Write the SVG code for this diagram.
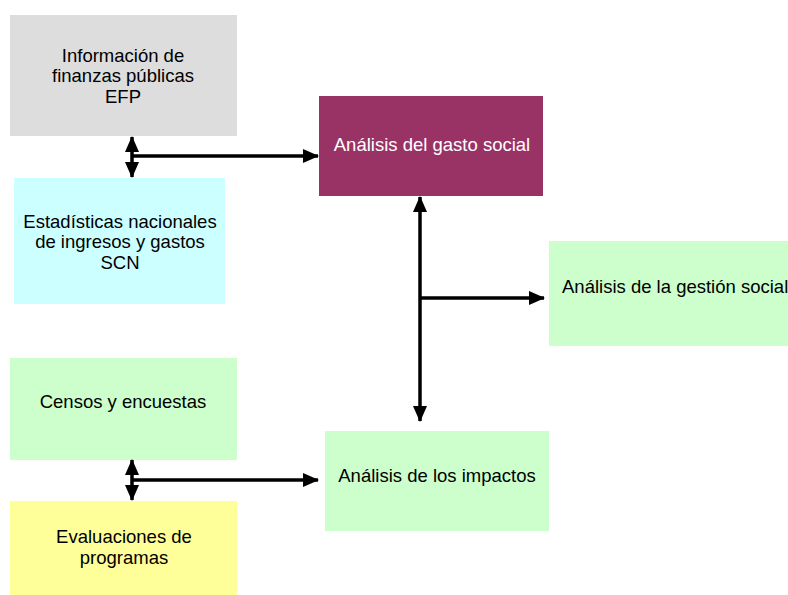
<svg xmlns="http://www.w3.org/2000/svg" width="788" height="595" viewBox="0 0 788 595">
<style>
text{font-family:"Liberation Sans",Arial,sans-serif;font-size:18.5px;fill:#000;text-anchor:middle}
.ln{stroke:#000;stroke-width:3.5;fill:none}
</style>
<defs>
<marker id="ah" viewBox="0 0 16 14" refX="15" refY="7" markerWidth="16" markerHeight="14" markerUnits="userSpaceOnUse" orient="auto-start-reverse">
<path d="M0,0 L16,7 L0,14 Z" fill="#000"/>
</marker>
</defs>
<rect width="788" height="595" fill="#fff"/>
<g id="efp"><rect x="10" y="15" width="227" height="121" fill="#dddddd"/>
<text x="123" y="62">Información de</text><text x="123" y="82">finanzas públicas</text><text x="123" y="103">EFP</text></g>
<g id="scn"><rect x="14" y="178" width="211" height="126" fill="#ccffff"/>
<text x="120" y="228">Estadísticas nacionales</text><text x="120" y="248">de ingresos y gastos</text><text x="120" y="269">SCN</text></g>
<g id="gasto"><rect x="319" y="96" width="224" height="100" fill="#993366"/>
<text x="432" y="151" style="fill:#fff">Análisis del gasto social</text></g>
<g id="gestion"><rect x="549" y="241" width="239" height="105" fill="#ccffcc"/>
<text x="562" y="293" style="text-anchor:start">Análisis de la gestión social</text></g>
<g id="censos"><rect x="10" y="358" width="227" height="102" fill="#ccffcc"/>
<text x="123" y="408">Censos y encuestas</text></g>
<g id="eval"><rect x="10" y="501" width="227" height="94" fill="#ffff99"/>
<text x="124" y="543">Evaluaciones de</text><text x="124" y="564">programas</text></g>
<g id="impactos"><rect x="325" y="431" width="224" height="100" fill="#ccffcc"/>
<text x="437" y="482">Análisis de los impactos</text></g>
<g id="connectors">
<line class="ln" x1="132" y1="137" x2="132" y2="177" marker-start="url(#ah)" marker-end="url(#ah)"/>
<line class="ln" x1="132" y1="156" x2="318" y2="156" marker-end="url(#ah)"/>
<line class="ln" x1="420" y1="197" x2="420" y2="421" marker-start="url(#ah)" marker-end="url(#ah)"/>
<line class="ln" x1="420" y1="298" x2="544" y2="298" marker-end="url(#ah)"/>
<line class="ln" x1="132" y1="460" x2="132" y2="500" marker-start="url(#ah)" marker-end="url(#ah)"/>
<line class="ln" x1="132" y1="480" x2="318" y2="480" marker-end="url(#ah)"/>
</g>
</svg>
